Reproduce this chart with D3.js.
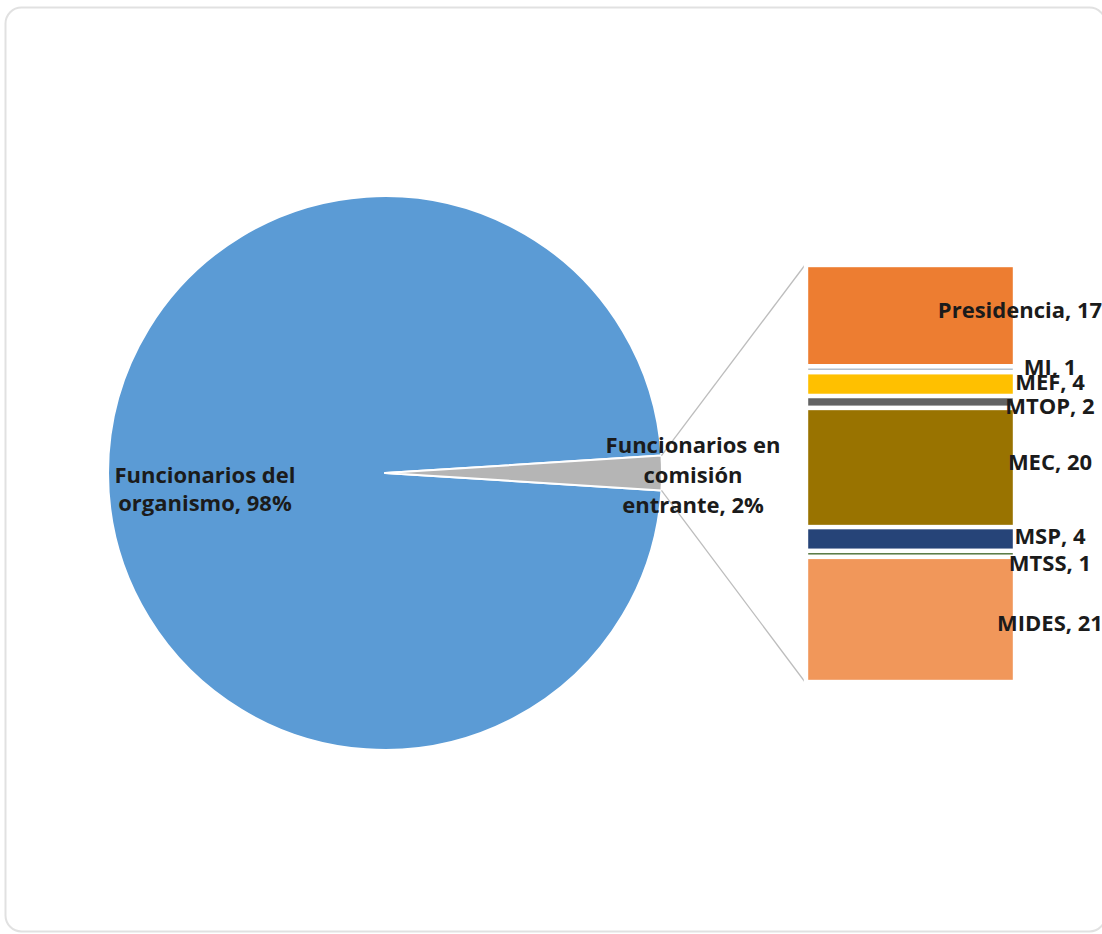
<!DOCTYPE html>
<html lang="es">
<head>
<meta charset="utf-8">
<title>Funcionarios del organismo y en comisión entrante</title>
<script src="https://cdn.jsdelivr.net/npm/d3@7"></script>
<style>
  html, body { margin: 0; padding: 0; background: #ffffff; }
  svg { display: block; }
  text { font-family: "Open Sans", "Noto Sans", sans-serif; font-weight: 700; fill: #1b1b1b; }
</style>
</head>
<body>
<svg id="chart" width="1102" height="934"></svg>
<script>
// Main split of staff (percent)
const pieLabels = ["Funcionarios del organismo", "Funcionarios en comisión entrante"];
const pieShares = [98, 2];
const pieColors = ["#5b9bd5", "#b5b5b5"];

// Breakdown of incoming staff by origin
const origins = ["Presidencia", "MI", "MEF", "MTOP", "MEC", "MSP", "MTSS", "MIDES"];
const originCounts = [17, 1, 4, 2, 20, 4, 1, 21];
const originColors = ["#ed7d31", "#b4c0cc", "#ffc000", "#636363", "#997300", "#264478", "#43682b", "#f1975a"];

const svg = d3.select("#chart");

// Card frame
svg.append("rect")
  .attr("x", 5.5).attr("y", 7.5)
  .attr("width", 1100).attr("height", 924)
  .attr("rx", 16).attr("ry", 16)
  .attr("fill", "#ffffff")
  .attr("stroke", "#e1e1e1")
  .attr("stroke-width", 2);

// ---- Pie ----
const cx = 385, cy = 473, radius = 277;
const smallFrac = pieShares[1] / d3.sum(pieShares);
const pie = d3.pie()
  .sort(null)
  .value(d => d)
  .startAngle(Math.PI / 2 + smallFrac * Math.PI)
  .endAngle(Math.PI / 2 + smallFrac * Math.PI + 2 * Math.PI);
const arcs = pie(pieShares);
const arc = d3.arc().innerRadius(0).outerRadius(radius);

const pieG = svg.append("g").attr("transform", `translate(${cx},${cy})`);
pieG.selectAll("path")
  .data(arcs)
  .join("path")
  .attr("d", arc)
  .attr("fill", (d, i) => pieColors[i])
  .attr("stroke", "#ffffff")
  .attr("stroke-width", 2)
  .attr("stroke-linejoin", "round");

// ---- Stacked breakdown bar ----
const barX0 = 806, barX1 = 1015;
const total = d3.sum(originCounts);
const y = d3.scaleLinear().domain([0, total]).range([265, 682]);
const stack = originCounts.map((v, i) => {
  const start = d3.sum(originCounts.slice(0, i));
  return { name: origins[i], value: v, start, end: start + v, color: originColors[i] };
});

// Connector lines from the small slice edges to the bar corners
const small = arcs[1];
const edgePoint = a => [cx + radius * Math.sin(a), cy - radius * Math.cos(a)];
const [tx, ty] = edgePoint(small.startAngle);
const [bx, by] = edgePoint(small.endAngle);
svg.append("g")
  .selectAll("line")
  .data([[tx, ty, barX0 - 1, y(0)], [bx, by, barX0 - 1, y(total)]])
  .join("line")
  .attr("x1", d => d[0]).attr("y1", d => d[1])
  .attr("x2", d => d[2]).attr("y2", d => d[3])
  .attr("stroke", "#bdbdbd")
  .attr("stroke-width", 1.3);

svg.append("g")
  .selectAll("rect")
  .data(stack)
  .join("rect")
  .attr("x", barX0)
  .attr("width", barX1 - barX0)
  .attr("y", d => y(d.start))
  .attr("height", d => y(d.end) - y(d.start))
  .attr("fill", d => d.color)
  .attr("stroke", "#ffffff")
  .attr("stroke-width", 4.4);

// ---- Labels ----
const fontSize = 22;

function multiline(g, lines, x, yTop, lh) {
  const t = g.append("text")
    .attr("text-anchor", "middle")
    .attr("font-size", fontSize);
  lines.forEach((ln, i) => {
    t.append("tspan").attr("x", x).attr("y", yTop + i * lh).text(ln);
  });
  return t;
}

const bigC = d3.arc().innerRadius(0).outerRadius(radius * 1.3).centroid(arcs[0]);
multiline(svg, ["Funcionarios del", `organismo, ${pieShares[0]}%`],
  cx + bigC[0], cy + bigC[1] + 10, 28);

const smallC = d3.arc().innerRadius(radius * 1.112).outerRadius(radius * 1.112).centroid(arcs[1]);
multiline(svg, ["Funcionarios en", "comisión", `entrante, ${pieShares[1]}%`],
  cx + smallC[0], cy + smallC[1] - 20, 30);

// Bar labels sit to the right of each segment, nudged apart where segments are thin
const labelNudge = { Presidencia: -5, MI: -2, MEF: -2, MTOP: 4, MEC: -5, MSP: -3, MTSS: 9, MIDES: 4 };
const labelCenter = { Presidencia: 1020 };
svg.append("g")
  .selectAll("text")
  .data(stack)
  .join("text")
  .attr("text-anchor", "middle")
  .attr("font-size", fontSize)
  .attr("x", d => labelCenter[d.name] || 1050)
  .attr("y", d => (y(d.start) + y(d.end)) / 2 + (labelNudge[d.name] || 0))
  .attr("dy", "0.35em")
  .text(d => `${d.name}, ${d.value}`);
</script>
</body>
</html>
